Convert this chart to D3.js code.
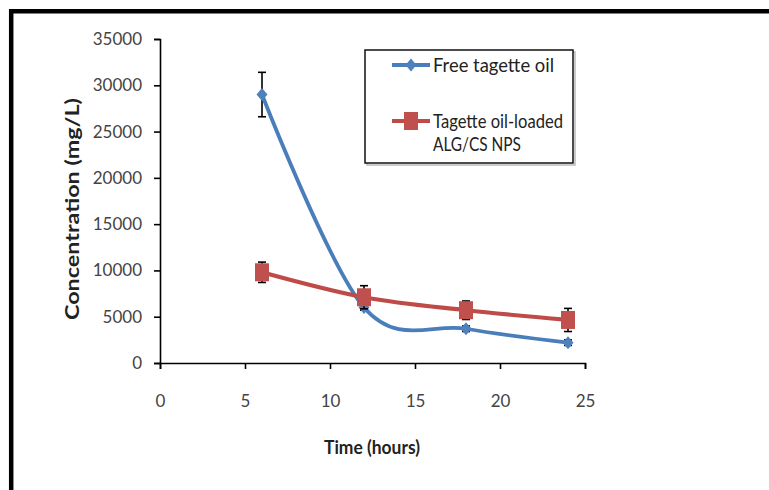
<!DOCTYPE html>
<html>
<head>
<meta charset="utf-8">
<script src="https://cdn.jsdelivr.net/npm/d3@7/dist/d3.min.js"></script>
<style>
  html, body { margin: 0; padding: 0; background: #ffffff; }
  svg { display: block; }
</style>
</head>
<body>
<div id="chart"></div>
<script>
// Release of tagette oil over time (mean ± error)
const timeHours = [6, 12, 18, 24];
const freeOil = [29000, 6000, 3700, 2200];
const freeOilErr = [2400, 300, 300, 300];
const loadedNps = [9800, 7100, 5700, 4650];
const loadedNpsErr = [1100, 1250, 1000, 1250];
const xTicks = [0, 5, 10, 15, 20, 25];
const yTicks = [0, 5000, 10000, 15000, 20000, 25000, 30000, 35000];
const seriesNames = ["Free tagette oil", "Tagette oil-loaded", "ALG/CS NPS"];

const W = 769, H = 490;
const svg = d3.select("#chart").append("svg").attr("width", W).attr("height", H);

// frame (top and left edges)
svg.append("path")
  .attr("d", `M11.2,${H} L11.2,11.2 L${W},11.2`)
  .attr("fill", "none").attr("stroke", "#000").attr("stroke-width", 4.5);

const x = d3.scaleLinear().domain([0, 25]).range([160, 585]);
const y = d3.scaleLinear().domain([0, 35000]).range([363, 39]);

const font = "Lato, 'Open Sans', sans-serif";

// y axis
const yAxis = svg.append("g").attr("transform", `translate(${x(0)},0)`)
  .call(d3.axisLeft(y).tickValues(yTicks).tickSize(6).tickPadding(12).tickFormat(d3.format("d")));
yAxis.select(".domain").attr("stroke", "#000").attr("stroke-width", 1.6);
yAxis.selectAll(".tick line").attr("stroke", "#000").attr("stroke-width", 1.6);
yAxis.selectAll(".tick text").attr("font-family", font).attr("font-size", 17).attr("fill", "#444");

// x axis
const xAxis = svg.append("g").attr("transform", `translate(0,${y(0)})`)
  .call(d3.axisBottom(x).tickValues(xTicks).tickSize(6).tickPadding(26).tickFormat(d3.format("d")));
xAxis.select(".domain").attr("stroke", "#000").attr("stroke-width", 1.6);
xAxis.selectAll(".tick line").attr("stroke", "#000").attr("stroke-width", 1.6);
xAxis.selectAll(".tick text").attr("font-family", font).attr("font-size", 17).attr("fill", "#444");

// axis titles
svg.append("text")
  .attr("x", 372).attr("y", 454).attr("text-anchor", "middle")
  .attr("font-family", font).attr("font-size", 19).attr("font-weight", "bold").attr("fill", "#222")
  .attr("textLength", 96).attr("lengthAdjust", "spacingAndGlyphs")
  .text("Time (hours)");
svg.append("text")
  .attr("transform", "translate(79,209) rotate(-90)").attr("text-anchor", "middle")
  .attr("font-family", font).attr("font-size", 19).attr("font-weight", "bold").attr("fill", "#222")
  .attr("textLength", 222).attr("lengthAdjust", "spacingAndGlyphs")
  .text("Concentration (mg/L)");

const blue = "#4a7ebb", blueMarker = "#4f81bd";
const red = "#be4b48", redMarker = "#c0504d";

const line = d3.line().x(d => x(d[0])).y(d => y(d[1])).curve(d3.curveCardinal.tension(0));
const freePts = timeHours.map((t, i) => [t, freeOil[i], freeOilErr[i]]);
const npsPts = timeHours.map((t, i) => [t, loadedNps[i], loadedNpsErr[i]]);

function errorBars(pts) {
  const g = svg.append("g").attr("stroke", "#000").attr("stroke-width", 1.6);
  pts.forEach(p => {
    const cx = x(p[0]);
    g.append("line").attr("x1", cx).attr("x2", cx).attr("y1", y(p[1] - p[2])).attr("y2", y(p[1] + p[2]));
    g.append("line").attr("x1", cx - 4).attr("x2", cx + 4).attr("y1", y(p[1] - p[2])).attr("y2", y(p[1] - p[2]));
    g.append("line").attr("x1", cx - 4).attr("x2", cx + 4).attr("y1", y(p[1] + p[2])).attr("y2", y(p[1] + p[2]));
  });
}

// free oil series
errorBars(freePts);
svg.append("path").datum(freePts).attr("d", line)
  .attr("fill", "none").attr("stroke", blue).attr("stroke-width", 3.8);
const diamond = (cx, cy) => `M${cx},${cy - 6.5} L${cx + 5.5},${cy} L${cx},${cy + 6.5} L${cx - 5.5},${cy} Z`;
svg.append("g").selectAll("path").data(freePts).join("path")
  .attr("d", d => diamond(x(d[0]), y(d[1]))).attr("fill", blueMarker);

// loaded nanoparticle series
errorBars(npsPts);
svg.append("path").datum(npsPts).attr("d", line)
  .attr("fill", "none").attr("stroke", red).attr("stroke-width", 4.2);
svg.append("g").selectAll("rect").data(npsPts).join("rect")
  .attr("x", d => x(d[0]) - 7).attr("y", d => y(d[1]) - 9)
  .attr("width", 14).attr("height", 18).attr("fill", redMarker);

// legend
const lg = svg.append("g");
lg.append("rect").attr("x", 367).attr("y", 52).attr("width", 208).attr("height", 113)
  .attr("fill", "none").attr("stroke", "#bbb").attr("stroke-width", 1.5);
lg.append("rect").attr("x", 365).attr("y", 50).attr("width", 208).attr("height", 113)
  .attr("fill", "#fff").attr("stroke", "#111").attr("stroke-width", 1.5);
lg.append("line").attr("x1", 392).attr("x2", 430).attr("y1", 65).attr("y2", 65)
  .attr("stroke", blue).attr("stroke-width", 3.8);
lg.append("path").attr("d", diamond(411, 65)).attr("fill", blueMarker);
lg.append("line").attr("x1", 392).attr("x2", 430).attr("y1", 121).attr("y2", 121)
  .attr("stroke", red).attr("stroke-width", 4.2);
lg.append("rect").attr("x", 404).attr("y", 112).attr("width", 14).attr("height", 18).attr("fill", redMarker);
const legText = [
  { t: seriesNames[0], y: 72, len: 121 },
  { t: seriesNames[1], y: 128, len: 130 },
  { t: seriesNames[2], y: 151, len: 88 }
];
lg.selectAll("text.leg").data(legText).join("text").attr("class", "leg")
  .attr("x", 433).attr("y", d => d.y)
  .attr("font-family", font).attr("font-size", 20).attr("fill", "#222")
  .attr("textLength", d => d.len).attr("lengthAdjust", "spacingAndGlyphs")
  .text(d => d.t);
</script>
</body>
</html>
